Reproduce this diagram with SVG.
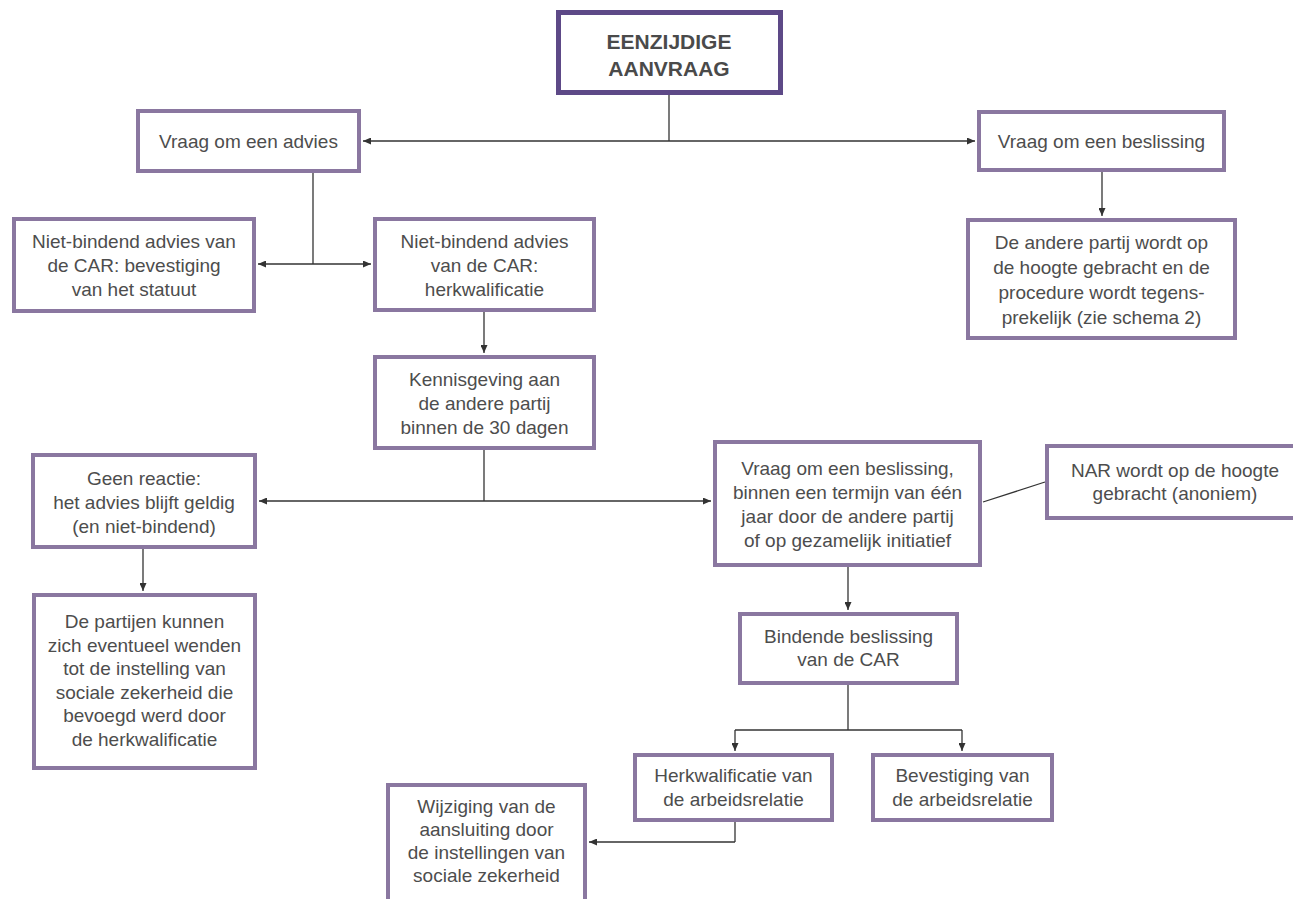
<svg xmlns="http://www.w3.org/2000/svg" width="1293" height="899" viewBox="0 0 1293 899">
<defs>
<marker id="ah" markerWidth="8" markerHeight="7" refX="8" refY="3.5" orient="auto-start-reverse" markerUnits="userSpaceOnUse">
<path d="M0,0 L8,3.5 L0,7 z" fill="#333"/>
</marker>
<style>
.box{fill:#fff;stroke:#8a77a0;stroke-width:4}
.top{fill:#fff;stroke:#5d4987;stroke-width:5}
text{font-family:"Liberation Sans",Arial,sans-serif;font-size:19px;fill:#4d4d4d;text-anchor:middle}
.tt{font-weight:bold;font-size:21px;fill:#4a4a4a}
.c{fill:none;stroke:#333;stroke-width:1.3}
.a{fill:none;stroke:#333;stroke-width:1.3;marker-end:url(#ah)}
.b{fill:none;stroke:#333;stroke-width:1.3;marker-start:url(#ah);marker-end:url(#ah)}
</style>
</defs>
<rect width="1293" height="899" fill="#fff"/>
<g id="connectors">
<line class="c" x1="669" y1="95" x2="669" y2="141"/>
<line class="b" x1="363" y1="141" x2="975" y2="141"/>
<line class="c" x1="313" y1="173" x2="313" y2="264"/>
<line class="b" x1="258" y1="264" x2="371" y2="264"/>
<line class="a" x1="1102" y1="172" x2="1102" y2="216"/>
<line class="a" x1="484" y1="312" x2="484" y2="353"/>
<line class="c" x1="484" y1="450" x2="484" y2="501"/>
<line class="b" x1="259" y1="501" x2="711" y2="501"/>
<line class="a" x1="143" y1="549" x2="143" y2="591"/>
<line class="c" x1="983" y1="502" x2="1045" y2="482"/>
<line class="a" x1="848" y1="567" x2="848" y2="610"/>
<line class="c" x1="848" y1="685" x2="848" y2="730"/>
<line class="c" x1="735" y1="730" x2="962" y2="730"/>
<line class="a" x1="735" y1="730" x2="735" y2="751"/>
<line class="a" x1="962" y1="730" x2="962" y2="751"/>
<line class="c" x1="735" y1="822" x2="735" y2="842"/>
<line class="a" x1="735" y1="842" x2="589" y2="842"/>
</g>
<g id="n-top">
<rect class="top" x="558.5" y="12.5" width="222" height="80"/>
<text class="tt" x="669" y="49">EENZIJDIGE</text>
<text class="tt" x="669" y="76">AANVRAAG</text>
</g>
<g id="n-advies">
<rect class="box" x="138" y="111" width="221" height="60"/>
<text x="248.5" y="148">Vraag om een advies</text>
</g>
<g id="n-beslissing">
<rect class="box" x="979" y="112" width="245" height="58"/>
<text x="1101.5" y="148">Vraag om een beslissing</text>
</g>
<g id="n-nb-bevestiging">
<rect class="box" x="14" y="219" width="240" height="92"/>
<text x="134" y="248">Niet-bindend advies van</text>
<text x="134" y="272">de CAR: bevestiging</text>
<text x="134" y="296">van het statuut</text>
</g>
<g id="n-nb-herkwalificatie">
<rect class="box" x="375" y="219" width="219" height="91"/>
<text x="484.5" y="248">Niet-bindend advies</text>
<text x="484.5" y="272">van de CAR:</text>
<text x="484.5" y="296">herkwalificatie</text>
</g>
<g id="n-andere-partij">
<rect class="box" x="968" y="220" width="267" height="118"/>
<text x="1101.5" y="249">De andere partij wordt op</text>
<text x="1101.5" y="274">de hoogte gebracht en de</text>
<text x="1101.5" y="299">procedure wordt tegens-</text>
<text x="1101.5" y="324">prekelijk (zie schema 2)</text>
</g>
<g id="n-kennisgeving">
<rect class="box" x="375" y="357" width="219" height="91"/>
<text x="484.5" y="386">Kennisgeving aan</text>
<text x="484.5" y="410">de andere partij</text>
<text x="484.5" y="434">binnen de 30 dagen</text>
</g>
<g id="n-geen-reactie">
<rect class="box" x="33" y="455" width="222" height="92"/>
<text x="144" y="485">Geen reactie:</text>
<text x="144" y="509">het advies blijft geldig</text>
<text x="144" y="533">(en niet-bindend)</text>
</g>
<g id="n-partijen">
<rect class="box" x="34" y="595" width="221" height="173"/>
<text x="144.5" y="628">De partijen kunnen</text>
<text x="144.5" y="651.5">zich eventueel wenden</text>
<text x="144.5" y="675">tot de instelling van</text>
<text x="144.5" y="698.5">sociale zekerheid die</text>
<text x="144.5" y="722">bevoegd werd door</text>
<text x="144.5" y="745.5">de herkwalificatie</text>
</g>
<g id="n-vraag-binnen">
<rect class="box" x="715" y="442" width="265" height="123"/>
<text x="847.5" y="475">Vraag om een beslissing,</text>
<text x="847.5" y="499">binnen een termijn van één</text>
<text x="847.5" y="523">jaar door de andere partij</text>
<text x="847.5" y="547">of op gezamelijk initiatief</text>
</g>
<g id="n-nar">
<rect class="box" x="1047" y="446" width="256" height="72"/>
<text x="1175" y="477">NAR wordt op de hoogte</text>
<text x="1175" y="500">gebracht (anoniem)</text>
</g>
<g id="n-bindende">
<rect class="box" x="740" y="614" width="217" height="69"/>
<text x="848.5" y="643">Bindende beslissing</text>
<text x="848.5" y="666">van de CAR</text>
</g>
<g id="n-herkwalificatie">
<rect class="box" x="635" y="755" width="197" height="65"/>
<text x="733.5" y="782">Herkwalificatie van</text>
<text x="733.5" y="806">de arbeidsrelatie</text>
</g>
<g id="n-bevestiging">
<rect class="box" x="873" y="755" width="179" height="65"/>
<text x="962.5" y="782">Bevestiging van</text>
<text x="962.5" y="806">de arbeidsrelatie</text>
</g>
<g id="n-wijziging">
<rect class="box" x="388" y="785" width="197" height="130"/>
<text x="486.5" y="813">Wijziging van de</text>
<text x="486.5" y="836">aansluiting door</text>
<text x="486.5" y="859">de instellingen van</text>
<text x="486.5" y="882">sociale zekerheid</text>
</g>
</svg>
